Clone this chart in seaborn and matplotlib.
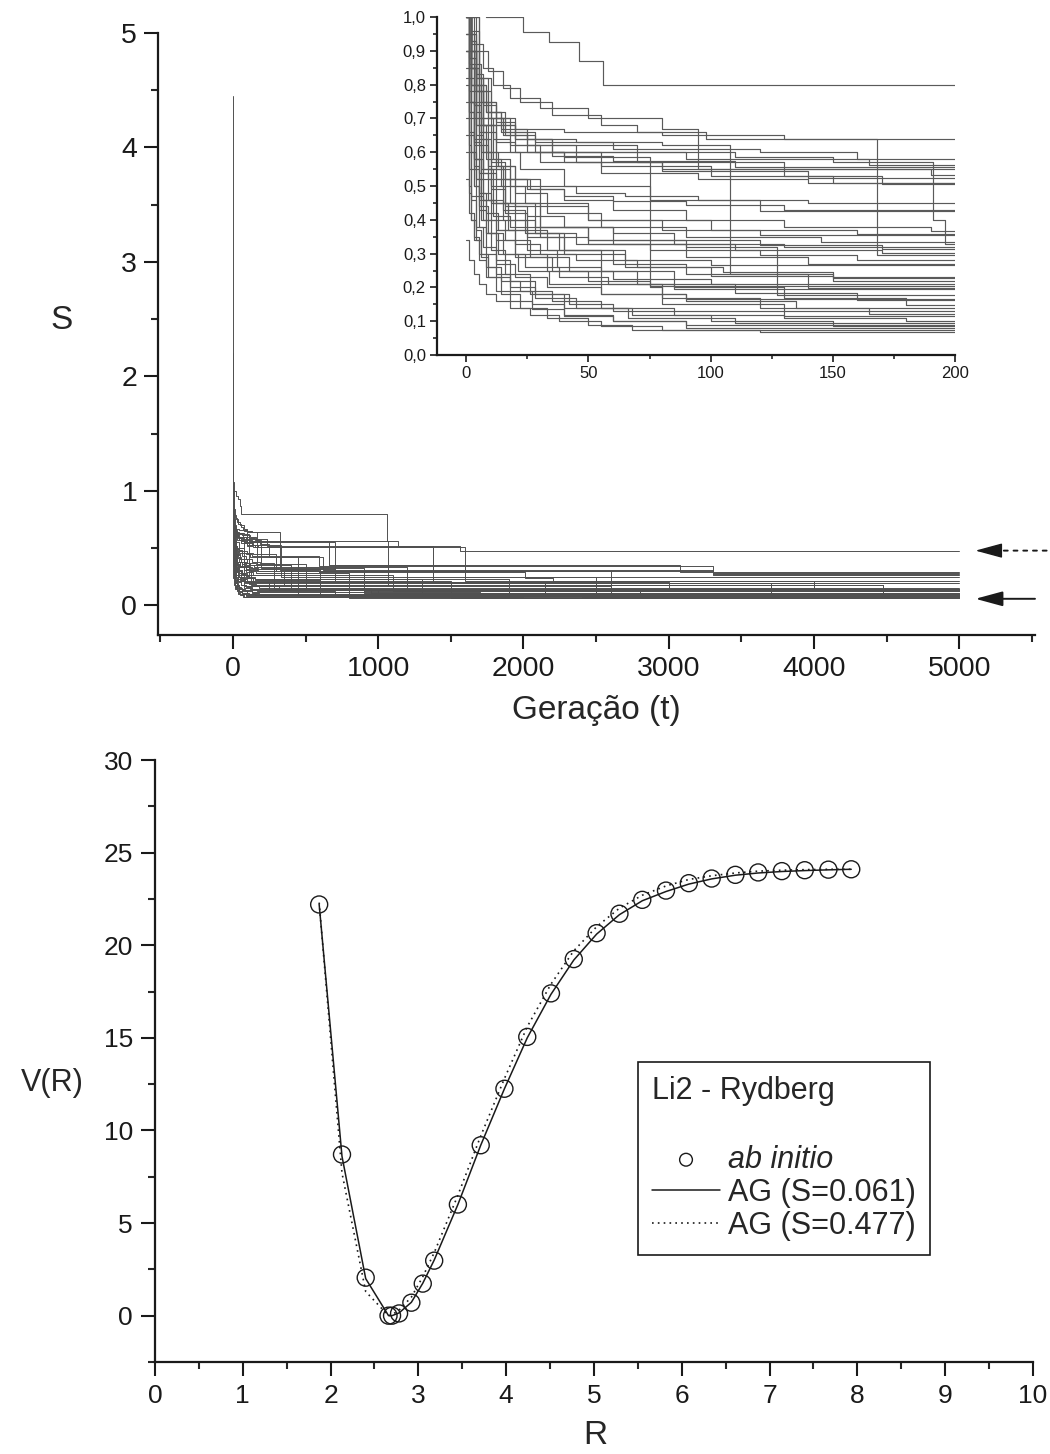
import numpy as np
import pandas as pd
import matplotlib
matplotlib.use("Agg")
import matplotlib.pyplot as plt
import seaborn as sns
from matplotlib.ticker import MultipleLocator, FuncFormatter

# ---------------- top panel: GA runs (generation where S changes, S after change)
run_gens = [
    [0, 3, 8, 23, 34, 46, 56, 1060, 1135, 1560],
    [0, 2, 5, 9, 15, 22, 35, 55, 70, 98, 325, 590, 2011, 2200],
    [0, 1, 3, 6, 10, 16, 28, 60, 120, 160, 232, 1378, 3700],
    [0, 2, 4, 8, 14, 25, 45, 90, 165, 660, 3078],
    [0, 1, 3, 5, 9, 20, 35, 60, 110, 1070, 4477],
    [0, 2, 4, 7, 12, 20, 35, 70, 130, 190, 250, 620, 3306],
    [0, 1, 3, 6, 11, 18, 40, 80, 140, 330, 2500],
    [0, 2, 5, 9, 16, 28, 55, 100, 150, 1600],
    [0, 1, 3, 5, 8, 13, 20, 30, 45, 65, 95, 140, 300, 2600],
    [0, 2, 4, 7, 12, 22, 40, 75, 120, 450, 2150],
    [0, 1, 3, 5, 9, 15, 25, 40, 60, 90, 130, 190, 280],
    [0, 2, 4, 8, 14, 24, 50, 100, 160, 500],
    [0, 2, 4, 7, 12, 20, 35, 70, 110, 150, 191, 196, 900],
    [0, 1, 2, 4, 7, 11, 18, 30, 50, 85, 130, 700, 2500],
    [0, 2, 4, 7, 12, 20, 30, 60, 110, 170, 1200],
    [0, 2, 4, 7, 12, 20, 40, 80, 130, 168, 350, 3700],
    [0, 1, 3, 6, 10, 17, 28, 45, 75, 120, 160, 800],
    [0, 2, 5, 10, 18, 30, 50, 90, 140, 450],
    [0, 2, 4, 8, 14, 25, 45, 80, 108, 150, 1900],
    [0, 1, 3, 5, 9, 15, 25, 40, 65, 100, 150, 600],
    [0, 2, 5, 9, 15, 24, 38, 60, 90, 140, 1500],
    [0, 1, 2, 4, 7, 12, 20, 35, 60, 100, 140, 250],
    [0, 2, 5, 9, 16, 28, 50, 90, 127, 4477],
    [0, 1, 3, 6, 10, 16, 26, 42, 70, 110, 160, 320],
    [0, 2, 4, 7, 12, 20, 33, 55, 85, 130, 180, 950],
    [0, 1, 3, 5, 8, 13, 21, 34, 55, 90, 135, 2800],
    [0, 2, 4, 7, 11, 17, 25, 37, 55, 80, 120, 165, 700],
    [0, 2, 4, 7, 12, 20, 40, 75, 80, 130, 1700],
    [0, 1, 2, 4, 6, 9, 14, 22, 35, 55, 85, 130, 180, 3300],
    [0, 2, 4, 6, 10, 16, 26, 40, 66, 110, 2400],
    [0, 1, 3, 5, 8, 12, 18, 28, 45, 68, 100, 150, 800],
    [0, 2, 3, 5, 8, 12, 18, 27, 40, 60, 90],
    [0, 1, 2, 4, 6, 9, 14, 22, 33, 50, 68],
    [0, 1, 3, 5, 8, 12, 18, 26, 38, 55, 80, 120, 2000],
    [0, 2, 5, 9, 15, 25, 45, 80, 130, 170, 660, 1600, 4000],
    [0, 1, 3, 6, 10, 16, 26, 40, 60, 90, 130, 590, 3306],
    [0, 2, 4, 7, 11, 18, 30, 50, 80, 95, 700, 3306],
    [0, 1, 2, 4, 7, 12, 20, 33, 55, 90, 2600],
    [0, 2, 4, 7, 12, 20, 33, 50, 75, 900],
    [0, 1, 3, 5, 8, 13, 20, 30, 45, 70, 105, 150, 1300],
    [0, 1, 2, 4, 7, 11, 18, 30, 50, 80, 120, 400],
    [0, 1, 2, 4, 6, 10, 16, 25, 40, 65, 100, 1100],
    [0, 2, 5, 10, 18, 30, 55, 95, 140, 1380, 3000],
    [0, 1, 3, 6, 10, 16, 25, 40, 60, 85, 120, 170, 600],
    [0, 2, 3, 5, 8, 12, 18, 28, 42, 60, 1000],
    [0, 1, 2, 3, 5, 8, 12, 18, 27, 40, 60, 90],
    [0, 2, 4, 7, 12, 20, 33, 55, 90, 145, 1200],
    [0, 1, 3, 5, 9, 15, 24, 38, 58, 85, 4000],
]
run_vals = [
    [1.35, 1.08, 1.0, 0.957, 0.925, 0.87, 0.80, 0.56, 0.515, 0.477],
    [1.2, 1.0, 0.9, 0.84, 0.79, 0.75, 0.71, 0.68, 0.66, 0.64, 0.31, 0.29, 0.235, 0.21],
    [1.1, 0.95, 0.86, 0.78, 0.70, 0.66, 0.63, 0.61, 0.60, 0.581, 0.515, 0.19, 0.13],
    [1.05, 0.9, 0.8, 0.72, 0.66, 0.62, 0.60, 0.58, 0.563, 0.35, 0.29],
    [1.2, 1.0, 0.85, 0.75, 0.68, 0.62, 0.59, 0.575, 0.557, 0.18, 0.10],
    [1.1, 0.93, 0.83, 0.75, 0.69, 0.64, 0.60, 0.57, 0.55, 0.533, 0.42, 0.306, 0.27],
    [1.0, 0.88, 0.78, 0.70, 0.64, 0.60, 0.57, 0.545, 0.523, 0.25, 0.12],
    [1.15, 0.96, 0.82, 0.72, 0.65, 0.60, 0.56, 0.53, 0.508, 0.25],
    [1.0, 0.85, 0.74, 0.66, 0.60, 0.56, 0.52, 0.50, 0.48, 0.47, 0.46, 0.451, 0.30, 0.14],
    [1.1, 0.9, 0.78, 0.68, 0.60, 0.55, 0.50, 0.46, 0.425, 0.20, 0.09],
    [1.0, 0.82, 0.70, 0.62, 0.56, 0.52, 0.49, 0.46, 0.43, 0.40, 0.38, 0.367, 0.14],
    [0.95, 0.80, 0.68, 0.58, 0.50, 0.45, 0.40, 0.37, 0.357, 0.13],
    [1.1, 0.93, 0.82, 0.74, 0.68, 0.64, 0.62, 0.60, 0.585, 0.57, 0.40, 0.328, 0.12],
    [1.15, 0.70, 0.60, 0.52, 0.46, 0.41, 0.38, 0.35, 0.34, 0.33, 0.319, 0.20, 0.11],
    [1.05, 0.85, 0.70, 0.60, 0.52, 0.44, 0.38, 0.33, 0.31, 0.303, 0.14],
    [1.0, 0.90, 0.82, 0.75, 0.70, 0.67, 0.66, 0.65, 0.64, 0.295, 0.18, 0.07],
    [0.9, 0.75, 0.62, 0.52, 0.45, 0.40, 0.36, 0.33, 0.31, 0.295, 0.281, 0.09],
    [1.2, 0.9, 0.7, 0.55, 0.45, 0.38, 0.33, 0.29, 0.268, 0.10],
    [1.1, 0.92, 0.80, 0.72, 0.67, 0.64, 0.63, 0.62, 0.24, 0.229, 0.10],
    [0.95, 0.78, 0.64, 0.54, 0.46, 0.40, 0.35, 0.30, 0.26, 0.235, 0.219, 0.08],
    [1.0, 0.80, 0.64, 0.52, 0.43, 0.36, 0.31, 0.27, 0.24, 0.209, 0.065],
    [0.82, 0.65, 0.55, 0.47, 0.40, 0.34, 0.29, 0.25, 0.225, 0.21, 0.199, 0.13],
    [1.05, 0.85, 0.68, 0.55, 0.45, 0.38, 0.34, 0.32, 0.179, 0.10],
    [0.9, 0.72, 0.58, 0.48, 0.40, 0.34, 0.29, 0.25, 0.21, 0.185, 0.164, 0.14],
    [1.0, 0.80, 0.65, 0.54, 0.45, 0.37, 0.31, 0.25, 0.20, 0.17, 0.149, 0.11],
    [0.75, 0.60, 0.50, 0.43, 0.36, 0.30, 0.25, 0.21, 0.18, 0.16, 0.14, 0.085],
    [1.1, 0.85, 0.68, 0.55, 0.45, 0.37, 0.31, 0.26, 0.21, 0.17, 0.14, 0.122, 0.09],
    [1.0, 0.85, 0.75, 0.68, 0.63, 0.60, 0.585, 0.20, 0.15, 0.117, 0.08],
    [0.6, 0.48, 0.40, 0.34, 0.30, 0.26, 0.22, 0.19, 0.16, 0.14, 0.12, 0.11, 0.102, 0.07],
    [0.95, 0.70, 0.52, 0.40, 0.31, 0.24, 0.18, 0.14, 0.11, 0.094, 0.075],
    [0.52, 0.42, 0.35, 0.30, 0.26, 0.23, 0.20, 0.17, 0.14, 0.12, 0.10, 0.087, 0.066],
    [0.9, 0.65, 0.50, 0.38, 0.30, 0.24, 0.19, 0.15, 0.12, 0.10, 0.08],
    [0.85, 0.62, 0.47, 0.37, 0.29, 0.23, 0.18, 0.14, 0.11, 0.09, 0.073],
    [0.34, 0.28, 0.24, 0.21, 0.18, 0.16, 0.14, 0.12, 0.10, 0.085, 0.075, 0.068, 0.061],
    [1.1, 0.9, 0.78, 0.70, 0.65, 0.60, 0.57, 0.55, 0.53, 0.505, 0.35, 0.21, 0.13],
    [1.0, 0.86, 0.74, 0.64, 0.57, 0.52, 0.49, 0.47, 0.455, 0.445, 0.43, 0.345, 0.28],
    [1.3, 1.05, 0.92, 0.85, 0.80, 0.76, 0.73, 0.70, 0.67, 0.55, 0.30, 0.26],
    [0.7, 0.55, 0.46, 0.38, 0.32, 0.27, 0.23, 0.20, 0.18, 0.165, 0.08],
    [1.0, 0.75, 0.58, 0.46, 0.37, 0.30, 0.25, 0.22, 0.205, 0.11],
    [0.8, 0.66, 0.56, 0.48, 0.42, 0.37, 0.33, 0.30, 0.28, 0.26, 0.245, 0.23, 0.09],
    [4.45, 1.2, 0.95, 0.80, 0.68, 0.58, 0.50, 0.44, 0.40, 0.37, 0.355, 0.15],
    [2.2, 1.1, 0.88, 0.72, 0.60, 0.50, 0.42, 0.36, 0.31, 0.28, 0.265, 0.12],
    [1.25, 1.0, 0.82, 0.70, 0.62, 0.57, 0.54, 0.52, 0.51, 0.20, 0.13],
    [0.9, 0.75, 0.63, 0.55, 0.49, 0.44, 0.41, 0.38, 0.36, 0.34, 0.325, 0.313, 0.14],
    [1.05, 0.75, 0.58, 0.46, 0.36, 0.28, 0.22, 0.18, 0.15, 0.13, 0.10],
    [0.65, 0.50, 0.40, 0.34, 0.28, 0.23, 0.19, 0.16, 0.135, 0.115, 0.10, 0.09],
    [1.2, 0.95, 0.78, 0.66, 0.56, 0.48, 0.42, 0.38, 0.35, 0.335, 0.19],
    [1.0, 0.72, 0.55, 0.44, 0.36, 0.30, 0.26, 0.23, 0.21, 0.195, 0.12],
]
last_generation = 5000

# ---------------- bottom panel: Li2 potential curve
r_abinitio = [1.87, 2.13, 2.40, 2.66, 2.70, 2.78, 2.92, 3.05, 3.18, 3.45, 3.71,
              3.98, 4.24, 4.51, 4.77, 5.03, 5.29, 5.55, 5.82, 6.08, 6.34, 6.61,
              6.87, 7.14, 7.40, 7.67, 7.93]
v_abinitio = [22.2, 8.7, 2.05, 0.0, 0.0, 0.12, 0.7, 1.73, 2.97, 6.0, 9.2,
              12.25, 15.05, 17.4, 19.25, 20.65, 21.7, 22.45, 22.95, 23.35, 23.6, 23.8,
              23.93, 24.0, 24.05, 24.08, 24.1]
v_fit_best = [22.2, 8.6, 2.0, 0.0, 0.0, 0.15, 0.72, 1.75, 3.0, 6.0, 9.2,
              12.25, 15.0, 17.35, 19.2, 20.6, 21.65, 22.4, 22.9, 23.3, 23.58, 23.78,
              23.9, 23.98, 24.03, 24.07, 24.1]
v_fit_worst = [22.3, 7.7, 1.3, 0.0, 0.05, 0.3, 1.0, 2.1, 3.4, 6.5, 9.7,
               12.8, 15.6, 17.9, 19.7, 21.0, 22.0, 22.7, 23.2, 23.55, 23.75, 23.9,
               24.0, 24.05, 24.08, 24.1, 24.1]
s_best = 0.061
s_worst = 0.477
legend_title = "Li2 - Rydberg"
label_abinitio = "ab initio"

# ---------------- build long table for runs
rows = []
for i, (g, v) in enumerate(zip(run_gens, run_vals)):
    gg = list(g) + [last_generation]
    vv = list(v) + [v[-1]]
    rows += [(i, a, b) for a, b in zip(gg, vv)]
runs = pd.DataFrame(rows, columns=["run", "gen", "S"])

sns.set_theme(style="ticks")
plt.rcParams["font.family"] = ["Liberation Sans", "DejaVu Sans"]
plt.rcParams["axes.linewidth"] = 1.6

fig = plt.figure(figsize=(10.5, 14.54), dpi=100)

def style_axis(ax, size, maj, minr, width, pad):
    ax.spines["top"].set_visible(False)
    ax.spines["right"].set_visible(False)
    ax.tick_params(which="major", direction="out", length=maj, width=width,
                   labelsize=size, pad=pad, colors="k")
    ax.tick_params(which="minor", direction="out", length=minr, width=width)
    for s in ("left", "bottom"):
        ax.spines[s].set_color("k")

# ---- main top axes
ax1 = fig.add_axes([0.1505, 0.5633, 0.8352, 0.4140])
sns.lineplot(data=runs, x="gen", y="S", units="run", estimator=None,
             drawstyle="steps-post", color="#505050", lw=0.7, ax=ax1, legend=False)
ax1.set_xlim(-515, 5520)
ax1.set_ylim(-0.26, 5.0)
ax1.xaxis.set_major_locator(MultipleLocator(1000))
ax1.xaxis.set_minor_locator(MultipleLocator(500))
ax1.yaxis.set_major_locator(MultipleLocator(1))
ax1.yaxis.set_minor_locator(MultipleLocator(0.5))
style_axis(ax1, 20.5, 10, 5, 1.5, 5)
ax1.set_xlabel("Geração (t)", fontsize=24)
ax1.set_ylabel("S", fontsize=24, rotation=0, ha="center", va="center")
ax1.xaxis.set_label_coords(0.4994, -0.100)
ax1.xaxis.label.set_va("top")
ax1.yaxis.set_label_coords(-0.1095, 0.523)

# arrows marking the two runs used below
tip = 5110
ax1.annotate("", xy=(tip + 150, s_worst), xytext=(5600, s_worst),
             arrowprops=dict(arrowstyle="-", ls=(0, (2, 3)), lw=1.4, color="k",
                             shrinkA=0, shrinkB=0), annotation_clip=False)
ax1.annotate("", xy=(tip, s_worst), xytext=(tip + 160, s_worst),
             arrowprops=dict(arrowstyle="-|>,head_length=1.4,head_width=0.38",
                             lw=1, color="k", shrinkA=0, shrinkB=0),
             annotation_clip=False)
ax1.annotate("", xy=(tip, s_best - 0.005), xytext=(5520, s_best - 0.005),
             arrowprops=dict(arrowstyle="-|>,head_length=1.4,head_width=0.38",
                             lw=1.4, color="k", shrinkA=0, shrinkB=0),
             annotation_clip=False)

# ---- inset
axi = fig.add_axes([0.4162, 0.7558, 0.4933, 0.2325])
sns.lineplot(data=runs, x="gen", y="S", units="run", estimator=None,
             drawstyle="steps-post", color="#5a5a5a", lw=0.85, ax=axi, legend=False)
axi.set_xlim(-12, 200)
axi.set_ylim(0, 1.0)
axi.xaxis.set_major_locator(MultipleLocator(50))
axi.xaxis.set_minor_locator(MultipleLocator(25))
axi.yaxis.set_major_locator(MultipleLocator(0.1))
axi.yaxis.set_minor_locator(MultipleLocator(0.05))
comma = FuncFormatter(lambda v, p: f"{v:.1f}".replace(".", ","))
axi.yaxis.set_major_formatter(comma)
style_axis(axi, 12, 5, 3, 1.2, 3)
axi.set_xlabel("")
axi.set_ylabel("")
axi.patch.set_alpha(0)

# ---- bottom axes
ax2 = fig.add_axes([0.1476, 0.0633, 0.8362, 0.4140])
sns.scatterplot(x=r_abinitio, y=v_abinitio, marker="o", s=150, ax=ax2,
                label=label_abinitio, zorder=3)
pts = ax2.collections[-1]
pts.set_facecolor("none")
pts.set_edgecolor("k")
pts.set_linewidth(1.0)
sns.lineplot(x=r_abinitio, y=v_fit_best, color="k", lw=1.1, ax=ax2,
             estimator=None, sort=False, label=f"AG (S={s_best:.3f})")
sns.lineplot(x=r_abinitio, y=v_fit_worst, color="k", lw=1.2, ls=(0, (1, 2.5)),
             ax=ax2, estimator=None, sort=False, label=f"AG (S={s_worst:.3f})")
ax2.set_xlim(0, 10)
ax2.set_ylim(-2.5, 30)
ax2.xaxis.set_major_locator(MultipleLocator(1))
ax2.xaxis.set_minor_locator(MultipleLocator(0.5))
ax2.yaxis.set_major_locator(MultipleLocator(5))
ax2.yaxis.set_minor_locator(MultipleLocator(2.5))
style_axis(ax2, 19, 10, 5, 1.5, 6)
ax2.set_xlabel("R", fontsize=24)
ax2.set_ylabel("V(R)", fontsize=22, rotation=0, ha="center", va="center")
ax2.xaxis.set_label_coords(0.501, -0.097)
ax2.xaxis.label.set_va("top")
ax2.yaxis.set_label_coords(-0.117, 0.4635)

handles, labels = ax2.get_legend_handles_labels()
leg = ax2.legend(handles, labels, title=legend_title + "\n", loc="upper left",
                 bbox_to_anchor=(0.550, 0.498), fontsize=22, title_fontsize=22,
                 frameon=True, fancybox=False, edgecolor="k", framealpha=1,
                 handlelength=2.25, labelspacing=0.1, markerscale=0.75,
                 alignment="left", borderpad=0.45, handletextpad=0.26,
                 borderaxespad=0)
leg.get_title().set_linespacing(1.25)
leg.get_frame().set_linewidth(1.2)
leg.get_texts()[0].set_style("italic")

fig.savefig("out.png", dpi=100, facecolor="white")
